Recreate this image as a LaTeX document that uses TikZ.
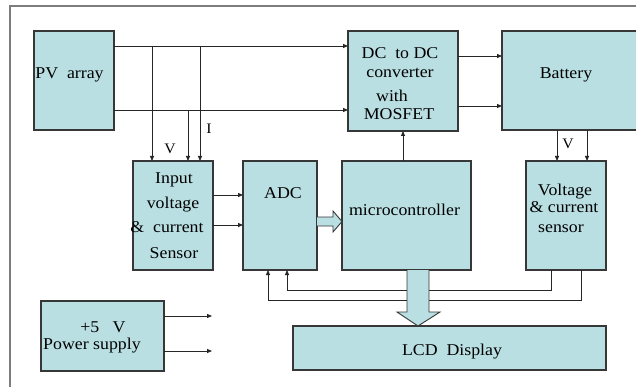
\documentclass[tikz,border=0pt]{standalone}
\usepackage{fontspec}
\setmainfont[FakeStretch=1.08]{Liberation Serif}
\usetikzlibrary{arrows.meta,calc}
\definecolor{boxfill}{RGB}{185,223,226}
\definecolor{boxline}{RGB}{55,55,55}
\definecolor{framec}{RGB}{125,125,125}
\begin{document}
\begin{tikzpicture}[x=1pt,y=-1pt,
  blk/.style={draw=boxline, fill=boxfill, line width=1.1pt, inner sep=0pt, outer sep=0pt},
  lbl/.style={font=\fontsize{16.5}{20}\selectfont, inner sep=0pt, anchor=base},
  sml/.style={font=\fontsize{14.5}{18}\selectfont, inner sep=0pt, anchor=base},
  conn/.style={line width=0.8pt, draw=black!85},
  arr/.style={conn, -{Triangle[length=5pt,width=4pt]}}]
\useasboundingbox (0,0) rectangle (636,387);
\clip (0,0) rectangle (636,387);
\fill[white] (0,0) rectangle (636,387);
\draw[framec, line width=1.4pt] (10,400) -- (10,6) -- (650,6);

% boxes
\node[blk, minimum width=80pt, minimum height=99pt] (pv) at (74,80.5) {};
\node[blk, minimum width=110pt, minimum height=100pt] (dc) at (403,81) {};
\node[blk, minimum width=148pt, minimum height=99pt] (bat) at (576,80.5) {};
\node[blk, minimum width=80pt, minimum height=109pt] (in) at (173,215.5) {};
\node[blk, minimum width=74pt, minimum height=109pt] (adc) at (280,215.5) {};
\node[blk, minimum width=129pt, minimum height=109pt] (mc) at (406.5,215.5) {};
\node[blk, minimum width=80pt, minimum height=109pt] (vs) at (566,215.5) {};
\node[blk, minimum width=123pt, minimum height=70pt] (ps) at (102.5,336) {};
\node[blk, minimum width=313pt, minimum height=44pt] (lcd) at (449.5,348) {};

% labels
\node[lbl] (tpv) at (69.5,79) {PV\ \ array};
\node[lbl] (tdc1) at (400,59) {DC\ \ to DC};
\node[lbl] (tdc2) at (400,77.5) {converter};
\node[lbl] (tdc3) at (392,102) {with};
\node[lbl] (tdc4) at (399,120) {MOSFET};
\node[lbl] (tbat) at (566,79) {Battery};
\node[lbl] (tin1) at (174,184) {Input};
\node[lbl] (tin2) at (173,208) {voltage};
\node[lbl] (tin3) at (167,233) {\&\ \ current};
\node[lbl] (tin4) at (174,258) {Sensor};
\node[lbl] (tadc) at (283,199) {ADC};
\node[lbl] (tmc) at (404.5,215) {microcontroller};
\node[lbl] (tvs1) at (565,196) {Voltage};
\node[lbl] (tvs2) at (564,212) {\& current};
\node[lbl] (tvs3) at (561,232) {sensor};
\node[lbl] (tps1) at (103,332) {+5\ \ \ V};
\node[lbl] (tps2) at (92,349) {Power supply};
\node[lbl] (tlcd) at (452,355) {LCD\ \ Display};
\node[sml] (tv1) at (170,154) {V};
\node[sml] (ti1) at (209,134) {I};
\node[sml] (tv2) at (568,149) {V};

% connectors
\coordinate (ytop) at (0,46);
\coordinate (ybot) at (0,110);
\draw[arr] (pv.east |- ytop) -- (dc.west |- ytop);
\draw[arr] (pv.east |- ybot) -- (dc.west |- ybot);
\coordinate (v1) at (152,46);
\coordinate (v2) at (188,110);
\coordinate (v3) at (200,46);
\draw[arr] (v1) -- (v1 |- in.north);
\draw[arr] (v2) -- (v2 |- in.north);
\draw[arr] (v3) -- (v3 |- in.north);
\coordinate (r1) at (0,195);
\coordinate (r2) at (0,225);
\draw[arr] (in.east |- r1) -- (adc.west |- r1);
\draw[arr] (in.east |- r2) -- (adc.west |- r2);
\coordinate (m1) at (403,0);
\draw[arr] (m1 |- mc.north) -- (m1 |- dc.south);
\coordinate (d1) at (0,56);
\coordinate (d2) at (0,106);
\draw[arr] (dc.east |- d1) -- (bat.west |- d1);
\draw[arr] (dc.east |- d2) -- (bat.west |- d2);
\coordinate (b1) at (557,0);
\coordinate (b2) at (587,0);
\draw[arr] (b1 |- bat.south) -- (b1 |- vs.north);
\draw[arr] (b2 |- bat.south) -- (b2 |- vs.north);
\coordinate (c1) at (551,290);
\coordinate (c1a) at (287,290);
\coordinate (c2) at (581,300);
\coordinate (c2a) at (268,300);
\draw[arr] (c1 |- vs.south) -- (c1) -- (c1a) -- (c1a |- adc.south);
\draw[arr] (c2 |- vs.south) -- (c2) -- (c2a) -- (c2a |- adc.south);
\coordinate (p1) at (212,316);
\coordinate (p2) at (212,351);
\draw[arr] (ps.east |- p1) -- (p1);
\draw[arr] (ps.east |- p2) -- (p2);

% block arrows
\draw[blk, line width=0.9pt] ($(adc.east)+(0,1.5)$) -- ($(adc.east)+(16,1.5)$) -- ($(adc.east)+(16,-4.5)$)
  -- ($(mc.west)+(0,6)$) -- ($(adc.east)+(16,16.5)$) -- ($(adc.east)+(16,10.5)$) -- ($(adc.east)+(0,10.5)$);
\coordinate (bk) at ($(mc.south)+(11.5,0)$);
\draw[blk, line width=0.9pt] ($(bk)+(-11,0)$) -- ($(bk)+(-11,42)$) -- ($(bk)+(-21,42)$)
  -- (bk |- lcd.north) -- ($(bk)+(22,42)$) -- ($(bk)+(11,42)$) -- ($(bk)+(11,0)$);
\end{tikzpicture}
\end{document}
